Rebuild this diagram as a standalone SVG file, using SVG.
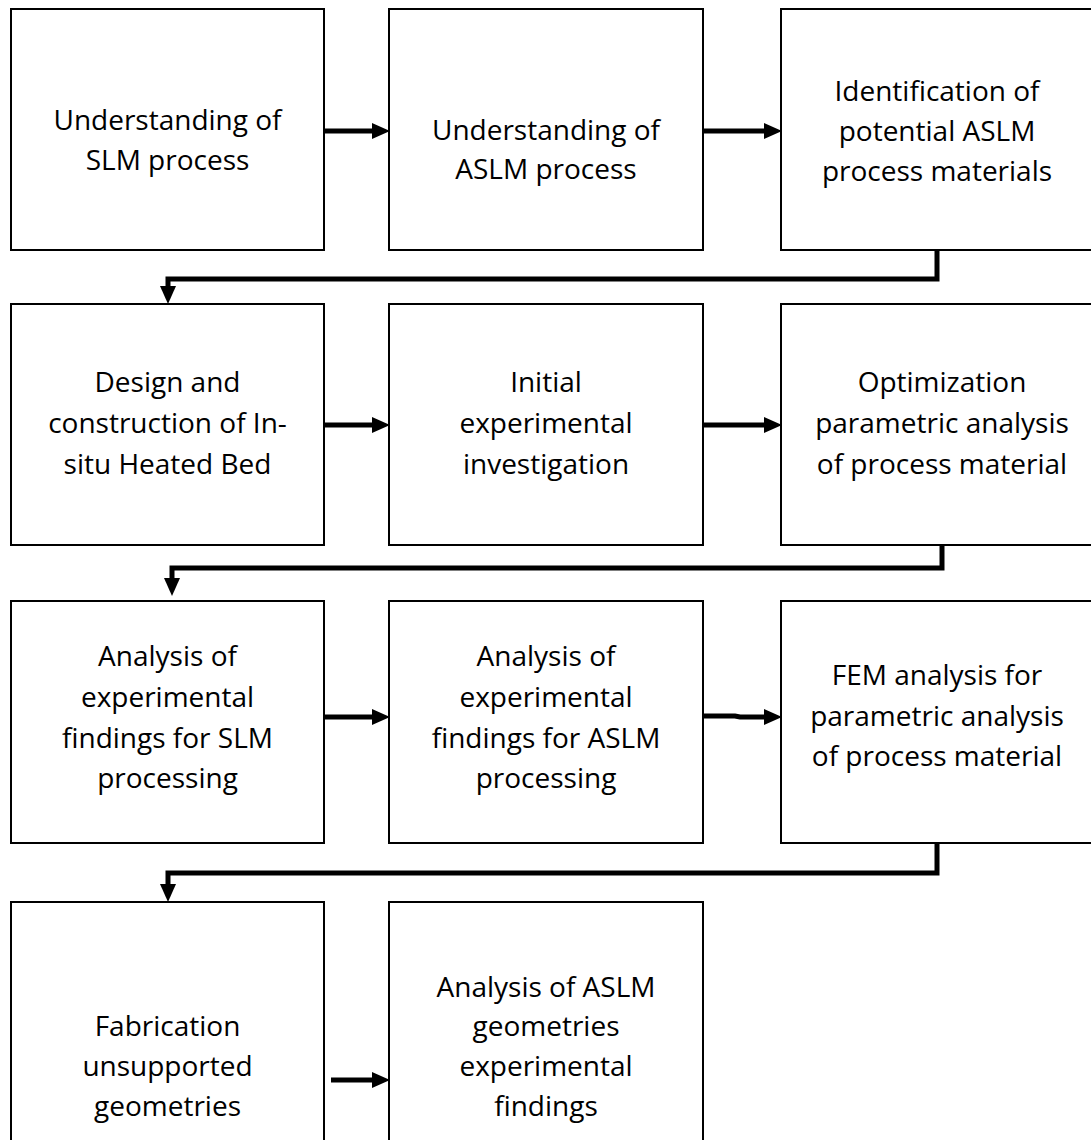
<svg xmlns="http://www.w3.org/2000/svg" width="1091" height="1140" viewBox="0 0 1091 1140">
<style>
.box{fill:#fff;stroke:#000;stroke-width:2}
.t{font-family:"Open Sans","Liberation Sans",sans-serif;font-size:28px;fill:#000;text-anchor:middle}
.c{fill:none;stroke:#000;stroke-width:5}
</style>
<defs>
<marker id="ah" markerUnits="userSpaceOnUse" markerWidth="18" markerHeight="16" refX="0" refY="8" orient="auto">
<path d="M0,0 L18,8 L0,16 z" fill="#000"/>
</marker>
</defs>
<rect width="1091" height="1140" fill="#fff"/>
<g id="n1"><rect class="box" x="11" y="9" width="313" height="241"/>
<text class="t"><tspan x="167.5" y="130">Understanding of</tspan><tspan x="167.5" y="170">SLM process</tspan></text></g>
<g id="n2"><rect class="box" x="389" y="9" width="314" height="241"/>
<text class="t"><tspan x="546" y="140">Understanding of</tspan><tspan x="546" y="179">ASLM process</tspan></text></g>
<g id="n3"><rect class="box" x="781" y="9" width="312" height="241"/>
<text class="t"><tspan x="937" y="101">Identification of</tspan><tspan x="937" y="141">potential ASLM</tspan><tspan x="937" y="181">process materials</tspan></text></g>
<g id="n4"><rect class="box" x="11" y="304" width="313" height="241"/>
<text class="t"><tspan x="167.5" y="392">Design and</tspan><tspan x="167.5" y="433">construction of In-</tspan><tspan x="167.5" y="474">situ Heated Bed</tspan></text></g>
<g id="n5"><rect class="box" x="389" y="304" width="314" height="241"/>
<text class="t"><tspan x="546" y="392">Initial</tspan><tspan x="546" y="433">experimental</tspan><tspan x="546" y="474">investigation</tspan></text></g>
<g id="n6"><rect class="box" x="781" y="304" width="322" height="241"/>
<text class="t"><tspan x="942" y="392">Optimization</tspan><tspan x="942" y="433">parametric analysis</tspan><tspan x="942" y="474">of process material</tspan></text></g>
<g id="n7"><rect class="box" x="11" y="601" width="313" height="242"/>
<text class="t"><tspan x="167.5" y="666">Analysis of</tspan><tspan x="167.5" y="707">experimental</tspan><tspan x="167.5" y="748">findings for SLM</tspan><tspan x="167.5" y="788">processing</tspan></text></g>
<g id="n8"><rect class="box" x="389" y="601" width="314" height="242"/>
<text class="t"><tspan x="546" y="666">Analysis of</tspan><tspan x="546" y="707">experimental</tspan><tspan x="546" y="748">findings for ASLM</tspan><tspan x="546" y="788">processing</tspan></text></g>
<g id="n9"><rect class="box" x="781" y="601" width="312" height="242"/>
<text class="t"><tspan x="937" y="685">FEM analysis for</tspan><tspan x="937" y="726">parametric analysis</tspan><tspan x="937" y="766">of process material</tspan></text></g>
<g id="n10"><rect class="box" x="11" y="902" width="313" height="260"/>
<text class="t"><tspan x="167.5" y="1036">Fabrication</tspan><tspan x="167.5" y="1076">unsupported</tspan><tspan x="167.5" y="1116">geometries</tspan></text></g>
<g id="n11"><rect class="box" x="389" y="902" width="314" height="260"/>
<text class="t"><tspan x="546" y="997">Analysis of ASLM</tspan><tspan x="546" y="1036">geometries</tspan><tspan x="546" y="1076">experimental</tspan><tspan x="546" y="1116">findings</tspan></text></g>
<g id="connectors">
<path class="c" d="M324,131 H372" marker-end="url(#ah)"/>
<path class="c" d="M703,131 H764" marker-end="url(#ah)"/>
<path class="c" d="M937,250 V279 H168 V286" marker-end="url(#ah)"/>
<path class="c" d="M324,425 H372" marker-end="url(#ah)"/>
<path class="c" d="M703,425 H764" marker-end="url(#ah)"/>
<path class="c" d="M942,545 V568 H172 V578" marker-end="url(#ah)"/>
<path class="c" d="M324,717 H372" marker-end="url(#ah)"/>
<path class="c" d="M703,716 H735 L740,717 H764" marker-end="url(#ah)"/>
<path class="c" d="M937,843 V873 H168 V884" marker-end="url(#ah)"/>
<path class="c" d="M331,1080 H372" marker-end="url(#ah)"/>
</g>
</svg>
